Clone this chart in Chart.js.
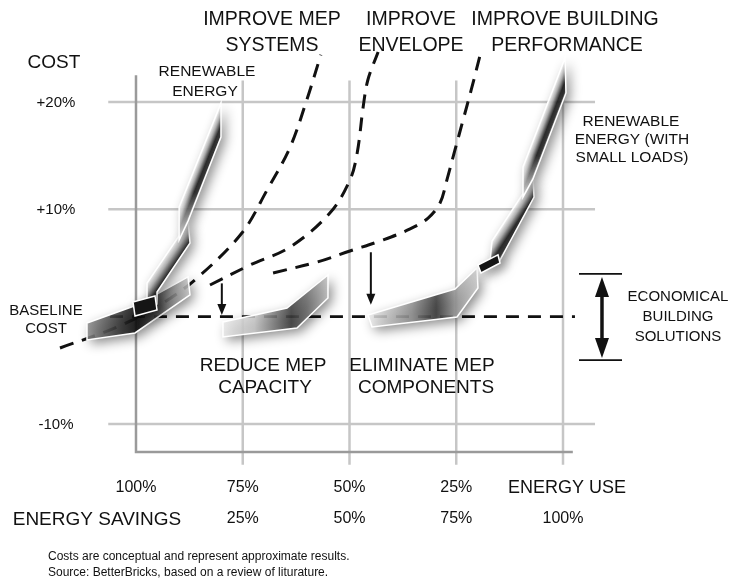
<!DOCTYPE html>
<html><head><meta charset="utf-8">
<script src="https://cdn.jsdelivr.net/npm/chart.js@4/dist/chart.umd.min.js"></script>
<style>html,body{margin:0;padding:0;background:#fff}#wrap{width:737px;height:582px;position:relative}</style>
</head><body><div id="wrap"><canvas id="c"></canvas></div>
<script>
// ---------------- data (x = energy use %, y = cost %) ----------------
const energyUseTicks = [100, 75, 50, 25];
const energyUseLabels = ['100%', '75%', '50%', '25%'];
const savingsTicks = [75, 50, 25, 0];
const savingsLabels = ['25%', '50%', '75%', '100%'];
const costTicks = [20, 10, -10];
const costLabels = ['+20%', '+10%', '-10%'];
const gridUse = [75, 50, 25, 0];

const mepSystemsUse = [117.8, 104.4, 94.4, 85.7, 75.2, 69.3, 63.9, 60.0, 56.7];
const mepSystemsCost = [-2.92, -0.96, 1.09, 3.6, 7.8, 11.8, 15.8, 20.2, 24.4];
const envelopeUse = [82.67, 73.3, 63.9, 54.6, 49.9, 48.2, 46.8, 45.7, 43.3];
const envelopeCost = [2.95, 4.81, 6.49, 9.66, 12.73, 15.25, 19.54, 22.05, 24.66];
const performanceUse = [67.9, 57.6, 49.9, 42.2, 35.8, 31.6, 28.8, 27.2, 25.3, 23.4, 21.5, 19.4];
const performanceCost = [4.07, 5.09, 6.12, 7.14, 8.17, 9.19, 10.59, 12.73, 15.53, 18.32, 21.12, 24.38];
const baselineUse = [106.1, -2.8];
const baselineCost = [0, 0];

// shaded regions (polygon vertices)
const baselineBlobUse = [111.48, 99.77, 87.82, 87.35, 100.23, 111.48];
const baselineBlobCost = [-0.59, 1.09, 3.70, 2.02, -1.52, -2.17];
const baselineBoxUse = [100.7, 95.55, 95.08, 100.23];
const baselineBoxCost = [1.37, 1.93, 0.62, 0.06];
const renewUpperUse = [80.1, 80.1, 87.8, 89.9, 89.9];
const renewUpperCost = [19.91, 16.74, 8.91, 7.14, 10.22];
const renewLowerUse = [87.8, 87.35, 95.08, 95.08, 97.42, 97.42, 89.93];
const renewLowerCost = [8.91, 6.86, 2.30, 1.19, 1.19, 3.14, 7.52];
const reduceMepUse = [55.04, 55.04, 62.3, 79.63, 79.63, 64.64];
const reduceMepCost = [3.88, 1.74, -1.05, -1.89, -0.49, 0.81];
const eliminateMepUse = [45.67, 25.29, 20.14, 19.91, 24.82, 44.73];
const eliminateMepCost = [0.16, 2.58, 4.53, 2.67, -0.03, -0.96];
const smallLoadBoxUse = [19.91, 15.22, 14.75, 19.2];
const smallLoadBoxCost = [4.81, 5.75, 5.0, 4.07];
const smallLoadLowerUse = [17.1, 16.63, 9.6, 7.03, 6.79, 14.99];
const smallLoadLowerCost = [5.09, 7.05, 11.34, 12.92, 11.15, 5.09];
const smallLoadUpperUse = [9.37, 9.37, -0.47, -0.7, 7.03];
const smallLoadUpperCost = [11.15, 13.95, 24.1, 20.84, 12.83];

// arrows
const dropArrowUse = [79.9, 45.0];
const dropArrowFrom = [3.1, 6.0];
const dropArrowTo = [0.15, 1.1];
const economicalUse = [-3.75, -9.13, -13.82];
const economicalCost = [3.98, -4.04];

// ---------------- helpers ----------------
const pts = (u, c) => u.map((v, i) => ({x: v, y: c[i]}));
const FONT = '"Liberation Sans", Arial, Helvetica, sans-serif';
function txt(ctx, s, x, y, size, align) {
  ctx.font = size + 'px ' + FONT;
  ctx.textAlign = align || 'center';
  ctx.textBaseline = 'middle';
  ctx.fillStyle = '#111';
  ctx.fillText(s, x, y);
}

const tubeStops = [[0,'#fafafa'],[0.3,'#a8a8a8'],[0.62,'#151515'],[0.85,'#222'],[1,'#8a8a8a']];
const shapeDefs = [
  {u: baselineBlobUse, c: baselineBlobCost, mode: 'x', stops: [[0,'#8a8a8a'],[0.35,'#2a2a2a'],[0.5,'#0a0a0a'],[0.65,'#3a3a3a'],[1,'#c8c8c8']]},
  {u: renewLowerUse, c: renewLowerCost, mode: 'across', axis: [6,5], stops: tubeStops},
  {u: renewUpperUse, c: renewUpperCost, mode: 'across', axis: [4,0], stops: tubeStops, fade: 0.35},
  {u: baselineBoxUse, c: baselineBoxCost, mode: 'solid', color: '#151515'},
  {u: reduceMepUse, c: reduceMepCost, mode: 'x', stops: [[0,'#e8e8e8'],[0.3,'#c8c8c8'],[0.65,'#3c3c3c'],[0.8,'#6a6a6a'],[1,'#c0c0c0']]},
  {u: eliminateMepUse, c: eliminateMepCost, mode: 'x', stops: [[0,'#ececec'],[0.4,'#8f8f8f'],[0.62,'#3a3a3a'],[0.8,'#9a9a9a'],[1,'#d0d0d0']]},
  {u: smallLoadLowerUse, c: smallLoadLowerCost, mode: 'across', axis: [1,2], stops: tubeStops},
  {u: smallLoadBoxUse, c: smallLoadBoxCost, mode: 'solid', color: '#151515'},
  {u: smallLoadUpperUse, c: smallLoadUpperCost, mode: 'across', axis: [1,2], stops: tubeStops, fade: 0.3}
];

function axisInfo(p, def) {
  const a = p[def.axis[0]], b = p[def.axis[1]];
  const dx = b[0]-a[0], dy = b[1]-a[1], L = Math.hypot(dx, dy);
  return {dx: dx/L, dy: dy/L};
}
function gradAlong(ctx, p, nx, ny) {
  const proj = p.map(q => q[0]*nx + q[1]*ny);
  const cx = p.reduce((s,q)=>s+q[0],0)/p.length, cy = p.reduce((s,q)=>s+q[1],0)/p.length;
  const pc = cx*nx + cy*ny, pmin = Math.min(...proj), pmax = Math.max(...proj);
  return ctx.createLinearGradient(cx + nx*(pmin-pc), cy + ny*(pmin-pc), cx + nx*(pmax-pc), cy + ny*(pmax-pc));
}
function makeFill(ctx, p, def) {
  if (def.mode === 'solid') return def.color;
  let g;
  if (def.mode === 'x') {
    const xs = p.map(q => q[0]);
    g = ctx.createLinearGradient(Math.min(...xs), 0, Math.max(...xs), 0);
  } else {
    const d = axisInfo(p, def);
    let nx = -d.dy, ny = d.dx;
    if (nx < 0) { nx = -nx; ny = -ny; }
    g = gradAlong(ctx, p, nx, ny);
  }
  def.stops.forEach(s => g.addColorStop(s[0], s[1]));
  return g;
}

const gridPlugin = {
  id: 'gridPlugin',
  beforeDatasetsDraw(chart) {
    const {ctx, scales: {x, y}} = chart;
    ctx.save();
    ctx.lineWidth = 2.5;
    ctx.strokeStyle = '#c6c6c6';
    costTicks.forEach(v => {
      const py = y.getPixelForValue(v);
      ctx.beginPath(); ctx.moveTo(x.getPixelForValue(106.5), py); ctx.lineTo(x.getPixelForValue(-7.5), py); ctx.stroke();
    });
    gridUse.forEach(v => {
      const px = x.getPixelForValue(v);
      ctx.beginPath(); ctx.moveTo(px, y.getPixelForValue(22.0)); ctx.lineTo(px, y.getPixelForValue(-13.8)); ctx.stroke();
    });
    ctx.strokeStyle = '#9a9a9a';
    ctx.lineWidth = 2.5;
    const ax = x.getPixelForValue(100), ay = y.getPixelForValue(-12.6);
    ctx.beginPath(); ctx.moveTo(ax, y.getPixelForValue(22.5)); ctx.lineTo(ax, ay); ctx.lineTo(x.getPixelForValue(-2.3), ay); ctx.stroke();
    ctx.restore();
  }
};

const shapePlugin = {
  id: 'shapePlugin',
  afterDatasetsDraw(chart) {
    const {ctx, scales: {x, y}} = chart;
    shapeDefs.forEach(def => {
      const p = def.u.map((u, i) => [x.getPixelForValue(u), y.getPixelForValue(def.c[i])]);
      const path = () => {
        ctx.beginPath();
        p.forEach((q, i) => i ? ctx.lineTo(q[0], q[1]) : ctx.moveTo(q[0], q[1]));
        ctx.closePath();
      };
      ctx.save();
      path();
      ctx.shadowColor = 'rgba(0,0,0,0.55)';
      ctx.shadowBlur = 12; ctx.shadowOffsetX = 4; ctx.shadowOffsetY = 4;
      ctx.globalAlpha = def.mode === 'solid' ? 1 : 0.85;
      ctx.fillStyle = makeFill(ctx, p, def);
      ctx.fill();
      ctx.shadowColor = 'transparent';
      ctx.globalAlpha = 1;
      if (def.fade) {
        const d = axisInfo(p, def);
        const g = gradAlong(ctx, p, -d.dx, -d.dy); // from top end toward bottom
        g.addColorStop(0, 'rgba(255,255,255,0.0)');
        g.addColorStop(1 - def.fade, 'rgba(255,255,255,0.0)');
        g.addColorStop(1, 'rgba(255,255,255,0.8)');
        ctx.fillStyle = g;
        ctx.fill();
      }
      ctx.strokeStyle = '#ffffff';
      ctx.lineWidth = 1.5;
      ctx.stroke();
      ctx.restore();
    });
  }
};

function arrowDown(ctx, px, y1, y2, lw, hw, hl) {
  ctx.lineWidth = lw;
  ctx.beginPath(); ctx.moveTo(px, y1); ctx.lineTo(px, y2 - hl + 1); ctx.stroke();
  ctx.beginPath(); ctx.moveTo(px - hw/2, y2 - hl); ctx.lineTo(px + hw/2, y2 - hl); ctx.lineTo(px, y2); ctx.closePath(); ctx.fill();
}
function arrowUp(ctx, px, y1, y2, lw, hw, hl) {
  ctx.lineWidth = lw;
  ctx.beginPath(); ctx.moveTo(px, y1); ctx.lineTo(px, y2 + hl - 1); ctx.stroke();
  ctx.beginPath(); ctx.moveTo(px - hw/2, y2 + hl); ctx.lineTo(px + hw/2, y2 + hl); ctx.lineTo(px, y2); ctx.closePath(); ctx.fill();
}

const labelPlugin = {
  id: 'labelPlugin',
  afterDraw(chart) {
    const {ctx, scales: {x, y}} = chart;
    ctx.save();
    ctx.strokeStyle = '#111'; ctx.fillStyle = '#111';
    dropArrowUse.forEach((u, i) => {
      arrowDown(ctx, x.getPixelForValue(u), y.getPixelForValue(dropArrowFrom[i]), y.getPixelForValue(dropArrowTo[i]), 2, 9, 11);
    });
    const bx1 = x.getPixelForValue(economicalUse[0]), bxm = x.getPixelForValue(economicalUse[1]), bx2 = x.getPixelForValue(economicalUse[2]);
    const by1 = y.getPixelForValue(economicalCost[0]), by2 = y.getPixelForValue(economicalCost[1]);
    ctx.lineWidth = 1.8;
    ctx.beginPath(); ctx.moveTo(bx1, by1); ctx.lineTo(bx2, by1); ctx.moveTo(bx1, by2); ctx.lineTo(bx2, by2); ctx.stroke();
    const mid = (by1 + by2) / 2;
    arrowUp(ctx, bxm, mid, by1 + 3, 3.5, 14, 20);
    arrowDown(ctx, bxm, mid, by2 - 2, 3.5, 14, 20);
    ctx.restore();

    txt(ctx, 'IMPROVE MEP', 272, 20, 19.5);
    txt(ctx, 'SYSTEMS', 272, 46, 19.5);
    txt(ctx, 'IMPROVE', 411, 20, 19.5);
    txt(ctx, 'ENVELOPE', 411, 46, 19.5);
    txt(ctx, 'IMPROVE BUILDING', 565, 20, 19.5);
    txt(ctx, 'PERFORMANCE', 567, 46, 19.5);
    txt(ctx, 'COST', 54, 63, 19);
    costTicks.forEach((v, i) => txt(ctx, costLabels[i], 56, y.getPixelForValue(v) + 1, 15));
    txt(ctx, 'RENEWABLE', 207, 72, 15.5);
    txt(ctx, 'ENERGY', 205, 92, 15.5);
    txt(ctx, 'RENEWABLE', 631, 122, 15.5);
    txt(ctx, 'ENERGY (WITH', 632, 140, 15.5);
    txt(ctx, 'SMALL LOADS)', 632, 158, 15.5);
    txt(ctx, 'BASELINE', 46, 311, 15);
    txt(ctx, 'COST', 46, 329, 15);
    txt(ctx, 'ECONOMICAL', 678, 297, 15);
    txt(ctx, 'BUILDING', 678, 317, 15);
    txt(ctx, 'SOLUTIONS', 678, 337, 15);
    txt(ctx, 'REDUCE MEP', 263, 366, 19);
    txt(ctx, 'CAPACITY', 265, 388, 19);
    txt(ctx, 'ELIMINATE MEP', 422, 366, 19);
    txt(ctx, 'COMPONENTS', 426, 388, 19);
    energyUseTicks.forEach((v, i) => txt(ctx, energyUseLabels[i], x.getPixelForValue(v), 488, 16));
    txt(ctx, 'ENERGY USE', 567, 488, 18);
    txt(ctx, 'ENERGY SAVINGS', 97, 520, 19);
    savingsTicks.forEach((v, i) => txt(ctx, savingsLabels[i], x.getPixelForValue(v), 519, 16));
    txt(ctx, 'Costs are conceptual and represent approximate results.', 48, 557, 12, 'left');
    txt(ctx, 'Source: BetterBricks, based on a review of liturature.', 48, 573, 12, 'left');
  }
};

const lineStyle = {showLine: true, borderColor: '#111', borderWidth: 3, borderDash: [14, 9], pointRadius: 0, tension: 0.35, clip: false, fill: false};

new Chart(document.getElementById('c'), {
  type: 'scatter',
  data: {
    datasets: [
      Object.assign({label: 'Baseline cost', data: pts(baselineUse, baselineCost)}, lineStyle, {borderWidth: 2.8, borderDash: [13, 9], tension: 0}),
      Object.assign({label: 'Improve MEP systems', data: pts(mepSystemsUse, mepSystemsCost)}, lineStyle),
      Object.assign({label: 'Improve envelope', data: pts(envelopeUse, envelopeCost)}, lineStyle),
      Object.assign({label: 'Improve building performance', data: pts(performanceUse, performanceCost)}, lineStyle)
    ]
  },
  options: {
    responsive: true, maintainAspectRatio: false, animation: false, devicePixelRatio: 1, events: [],
    layout: {padding: 0},
    plugins: {legend: {display: false}, tooltip: {enabled: false}},
    scales: {
      x: {type: 'linear', reverse: true, min: -40.75, max: 131.85, display: false},
      y: {type: 'linear', min: -24.721, max: 29.503, display: false}
    }
  },
  plugins: [gridPlugin, shapePlugin, labelPlugin]
});
</script></body></html>
